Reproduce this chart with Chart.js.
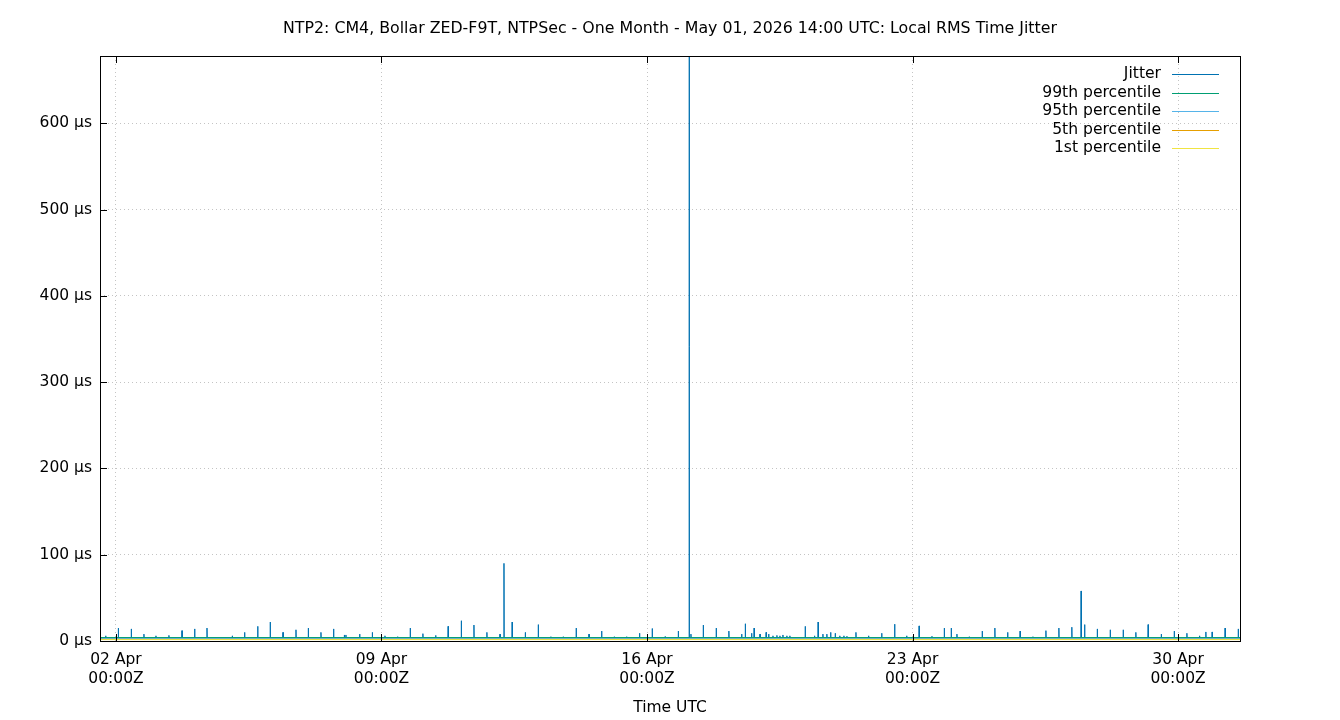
<!DOCTYPE html>
<html>
<head>
<meta charset="utf-8">
<title>Local RMS Time Jitter</title>
<script src="https://cdn.jsdelivr.net/npm/chart.js@4.4.1/dist/chart.umd.min.js"></script>
<style>
  html, body { margin: 0; padding: 0; background: #fff; }
  #wrap { width: 1340px; height: 720px; }
</style>
</head>
<body>
<div id="wrap"><canvas id="jitter" width="1340" height="720"></canvas></div>
<script>
// hours relative to 02 Apr 00:00Z
const xMin = -10.1
const xMax = 711.2
const xTickHours = [0, 168, 336, 504, 672]
const xTickLabels = [
  ["02 Apr", "00:00Z"],
  ["09 Apr", "00:00Z"],
  ["16 Apr", "00:00Z"],
  ["23 Apr", "00:00Z"],
  ["30 Apr", "00:00Z"]
]
const yMax = 678
const yTicks = [0, 100, 200, 300, 400, 500, 600]

const chartTitle = "NTP2: CM4, Bollar ZED-F9T, NTPSec - One Month - May 01, 2026 14:00 UTC: Local RMS Time Jitter"

// jitter: quiet level plus the spikes (µs)
const jitterBase = 3.6
const spikeHours = [
  -6.5, 1.5, 9.7, 17.7, 25.3, 33.5, 41.8, 49.8, 57.6, 73.6,
  81.4, 89.7, 97.6, 105.7, 113.9, 121.7, 129.7, 137.7, 144.5, 145.5,
  154.2, 162.2, 170.2, 178.2, 186.2, 194.2, 202.3, 210.2, 218.5, 226.5,
  234.7, 243, 245.5, 250.7, 259, 267.2, 275.2, 283, 291.2, 299.3,
  307.3, 315.3, 323.1, 331.3, 339.3, 347.5, 355.8, 362.7, 363.8, 371.6,
  379.8, 387.8, 395.9, 398.2, 402.2, 403.8, 407.5, 411.4, 413, 415.7,
  418.2, 420.1, 422, 424.5, 426.4, 436.1, 442, 444.3, 447.3, 449.8,
  452.2, 455.1, 458, 460.6, 462.5, 468.2, 476.2, 484.5, 492.7, 500.3,
  508.2, 516.3, 524.1, 528.5, 532.1, 539.9, 548.1, 556.1, 564.2, 572.1,
  580.2, 588.4, 596.6, 604.8, 610.7, 612.9, 620.9, 629.1, 637.3, 645.3,
  653.1, 661.4, 669.6, 677.6, 685.6, 689.6, 693.6, 701.8, 710.1
]
const spikeValues = [
  6, 15, 14, 8, 6, 6.5, 12, 14, 15, 6,
  10, 17, 22, 10, 13, 15, 10, 14, 7, 7,
  8, 10, 6, 5, 15, 8.5, 6.5, 17, 23.5, 18.5,
  10, 8, 90, 22, 10, 19, 5, 5, 15, 8,
  11.5, 5, 5, 9, 14.5, 5, 11.5, 700, 8, 18.5,
  15, 11.5, 8, 20, 9, 15, 8, 10, 8, 6,
  6.5, 6, 7, 6, 6, 17, 6, 22, 8, 8,
  10, 9, 6, 6, 5.5, 10, 6, 9, 19.5, 6,
  17.5, 5.5, 15, 15, 8, 5, 11.5, 15, 10, 11.5,
  5, 12, 15, 16, 58, 19, 14, 13, 13, 10,
  19, 8, 11.5, 9, 6, 10.5, 10.5, 15, 14
]

// percentile levels (µs), flat over the month
const pct99 = 4.0
const pct95 = 2.9
const pct5 = 1.9
const pct1 = 1.6

const seriesNames = ["Jitter", "99th percentile", "95th percentile", "5th percentile", "1st percentile"]
const seriesColors = ["#0072b2", "#009e73", "#56b4e9", "#e69f00", "#f0e442"]

const FONT = "'DejaVu Sans', sans-serif"

// build the jitter line: quiet level with a narrow spike at each sample
const jitterPoints = [{ x: xMin, y: jitterBase }]
spikeHours.forEach((h, i) => {
  jitterPoints.push({ x: h - 0.12, y: jitterBase })
  jitterPoints.push({ x: h, y: spikeValues[i] })
  jitterPoints.push({ x: h + 0.12, y: jitterBase })
})
jitterPoints.push({ x: xMax, y: jitterBase })

const flat = v => [{ x: xMin, y: v }, { x: xMax, y: v }]
const seriesData = [jitterPoints, flat(pct99), flat(pct95), flat(pct5), flat(pct1)]

// gnuplot style title, frame, inward ticks and a right-aligned key
const gnuplotLook = {
  id: "gnuplotLook",
  afterDatasetsDraw(chart) {
    const { ctx, chartArea: a, scales } = chart
    ctx.save()
    ctx.strokeStyle = "#000"
    ctx.lineWidth = 1
    ctx.beginPath()
    xTickHours.forEach(h => {
      const px = Math.round(scales.x.getPixelForValue(h)) + 0.5
      ctx.moveTo(px, a.bottom); ctx.lineTo(px, a.bottom - 7)
      ctx.moveTo(px, a.top); ctx.lineTo(px, a.top + 7)
    })
    yTicks.forEach(v => {
      const py = Math.round(scales.y.getPixelForValue(v)) + 0.5
      ctx.moveTo(a.left, py); ctx.lineTo(a.left + 7, py)
    })
    ctx.stroke()
    ctx.strokeRect(Math.round(a.left) + 0.5, Math.round(a.top) + 0.5,
                   Math.round(a.right - a.left), Math.round(a.bottom - a.top))

    ctx.font = "15.8px " + FONT
    ctx.fillStyle = "#000"
    ctx.textAlign = "center"
    ctx.textBaseline = "middle"
    ctx.fillText(chartTitle, chart.width / 2, 29)

    // key
    ctx.font = "15.6px " + FONT
    ctx.textAlign = "right"
    seriesNames.forEach((name, i) => {
      const y = 74 + i * 18.5
      ctx.fillStyle = "#000"
      ctx.fillText(name, 1161, y)
      ctx.strokeStyle = seriesColors[i]
      ctx.beginPath()
      ctx.moveTo(1172, Math.round(y) + 0.5)
      ctx.lineTo(1219, Math.round(y) + 0.5)
      ctx.stroke()
    })
    ctx.restore()
  }
}

const ctx = document.getElementById("jitter").getContext("2d")
new Chart(ctx, {
  type: "line",
  data: {
    datasets: seriesNames.map((name, i) => ({
      label: name,
      data: seriesData[i],
      borderColor: seriesColors[i],
      borderWidth: 1,
      pointRadius: 0,
      tension: 0,
      fill: false,
      // jitter underneath, 1st percentile on top (gnuplot plot order)
      order: seriesNames.length - i
    }))
  },
  options: {
    responsive: false,
    animation: false,
    devicePixelRatio: 1,
    parsing: false,
    layout: { padding: { top: 56, right: 100, bottom: 0, left: 0 } },
    plugins: {
      legend: { display: false },
      tooltip: { enabled: false },
      title: { display: false }
    },
    scales: {
      x: {
        type: "linear",
        min: xMin,
        max: xMax,
        afterBuildTicks: s => { s.ticks = xTickHours.map(v => ({ value: v })) },
        afterFit: s => { s.height = 79 },
        ticks: {
          callback: (v, i) => xTickLabels[i],
          color: "#000",
          font: { family: FONT, size: 15.5, lineHeight: 1.23 },
          maxRotation: 0,
          autoSkip: false,
          padding: 9
        },
        grid: { color: "#c4c4c4", drawTicks: false },
        border: { display: false, dash: [1, 3] },
        title: {
          display: true,
          text: "Time UTC",
          color: "#000",
          font: { family: FONT, size: 15.5 },
          padding: { top: 0, bottom: 3 }
        }
      },
      y: {
        min: 0,
        max: yMax,
        afterBuildTicks: s => { s.ticks = yTicks.map(v => ({ value: v })) },
        afterFit: s => { s.width = 100 },
        ticks: {
          callback: v => v + " µs",
          color: "#000",
          font: { family: FONT, size: 15.5 },
          padding: 8
        },
        grid: { color: "#c4c4c4", drawTicks: false },
        border: { display: false, dash: [1, 3] }
      }
    }
  },
  plugins: [gnuplotLook]
})
</script>
</body>
</html>
